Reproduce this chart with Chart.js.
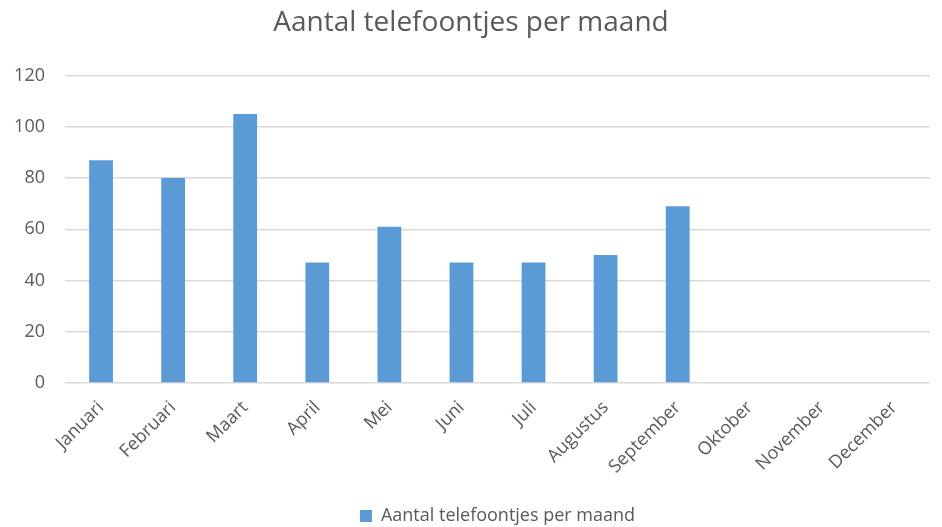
<!DOCTYPE html>
<html>
<head>
<meta charset="utf-8">
<script src="https://cdn.jsdelivr.net/npm/chart.js@4/dist/chart.umd.min.js"></script>
<style>
  html, body { margin: 0; padding: 0; background: #fff; }
  #wrap { width: 942px; height: 527px; }
</style>
</head>
<body>
<div id="wrap"><canvas id="myChart"></canvas></div>
<script>
// data
var maanden = ['Januari', 'Februari', 'Maart', 'April', 'Mei', 'Juni', 'Juli',
               'Augustus', 'September', 'Oktober', 'November', 'December'];
var telefoontjes = [87, 80, 105, 47, 61, 47, 47, 50, 69, 0, 0, 0];
var reeksNaam = 'Aantal telefoontjes per maand';
var yTicks = [0, 20, 40, 60, 80, 100, 120];

var grijs = '#595959';
Chart.defaults.font.family = '"Open Sans", Lato, sans-serif';

var ctx = document.getElementById('myChart').getContext('2d');
var myChart = new Chart(ctx, {
    type: 'bar',
    data: {
        labels: maanden,
        datasets: [{
            label: reeksNaam,
            data: telefoontjes,
            backgroundColor: '#5b9bd5',
            borderWidth: 0,
            categoryPercentage: 1,
            barPercentage: 0.33
        }]
    },
    options: {
        responsive: true,
        maintainAspectRatio: false,
        animation: false,
        layout: { padding: { left: 12, right: 12, top: 4, bottom: -8 } },
        plugins: {
            title: {
                display: true,
                text: reeksNaam,
                color: grijs,
                font: { size: 28, weight: 'normal' },
                padding: { top: 2, bottom: 36 }
            },
            legend: {
                position: 'bottom',
                fullSize: false,
                labels: {
                    color: grijs,
                    font: { size: 18 },
                    boxWidth: 12,
                    boxHeight: 12,
                    padding: 0
                }
            },
            tooltip: { enabled: false }
        },
        scales: {
            x: {
                grid: { display: false },
                border: { display: false },
                afterFit: function (axis) {
                    axis.height = 124;
                    axis.paddingLeft = 0;
                    axis.paddingRight = 0;
                },
                ticks: {
                    color: grijs,
                    font: { size: 18 },
                    minRotation: 45,
                    maxRotation: 45,
                    padding: 6
                }
            },
            y: {
                min: 0,
                max: 120,
                afterBuildTicks: function (axis) {
                    axis.ticks = yTicks.map(function (v) { return { value: v }; });
                },
                afterFit: function (axis) { axis.width = 53; },
                grid: { color: '#d9d9d9', lineWidth: 1.5, drawTicks: false },
                border: { display: false },
                ticks: {
                    color: grijs,
                    font: { size: 18 },
                    padding: 20
                }
            }
        }
    }
});
</script>
</body>
</html>
